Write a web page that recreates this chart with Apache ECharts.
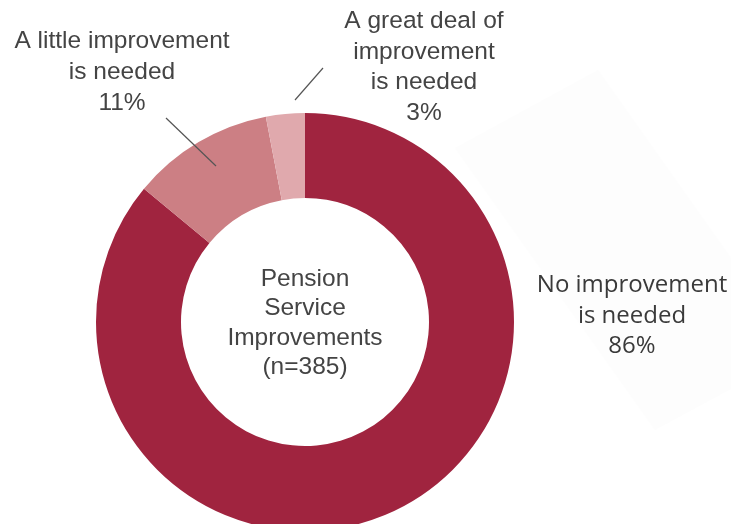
<!DOCTYPE html>
<html>
<head>
<meta charset="utf-8">
<script src="https://cdn.jsdelivr.net/npm/echarts@6/dist/echarts.min.js"></script>
<style>
  html, body { margin: 0; padding: 0; background: #ffffff; }
  #chart { width: 731px; height: 524px; }
</style>
</head>
<body>
<div id="chart"></div>
<script>
// Survey responses: how much improvement the pension service needs
const categories = [
  'No improvement\nis needed',
  'A little improvement\nis needed',
  'A great deal of\nimprovement\nis needed'
];
const shares = [86, 11, 3];
const sliceColors = ['#A0243F', '#CC7F84', '#E0A9AD'];
const centerLines = ['Pension', 'Service', 'Improvements', '(n=385)'];

const chart = echarts.init(document.getElementById('chart'), null, { renderer: 'canvas' });

const helv = 'Liberation Sans, Arial, Helvetica, sans-serif';

// Label anchors for each slice
const labelPlacement = [
  { x: 632, y: 316, align: 'center', verticalAlign: 'middle' },
  { x: 122, y: 72, align: 'center', verticalAlign: 'middle' },
  { x: 424, y: 67, align: 'center', verticalAlign: 'middle' }
];

// Leader lines, drawn above the ring
const leaderLines = [
  [[166, 118], [216, 166]],
  [[323, 68], [295, 100]]
];

const labelFonts = [
  { fontFamily: 'Open Sans', fontSize: 24, lineHeight: 30.5, color: '#3a3a3a' },
  { fontFamily: helv, fontSize: 24.5, lineHeight: 31, color: '#444444' },
  { fontFamily: helv, fontSize: 24.5, lineHeight: 30.5, color: '#444444' }
];

const pieData = categories.map((name, i) => ({
  name: name,
  value: shares[i],
  itemStyle: { color: sliceColors[i] },
  label: Object.assign({ show: true, align: 'center' }, labelFonts[i]),
  labelLine: { show: false }
}));

const graphics = [
  {
    type: 'polygon',
    z: -10,
    silent: true,
    shape: { points: [[455, 148], [598, 70], [731, 258], [731, 389], [655, 430]] },
    style: { fill: '#fdfdfd' }
  },
  {
    type: 'text',
    x: 305,
    y: 323,
    z: 10,
    silent: true,
    style: {
      text: centerLines.join('\n'),
      align: 'center',
      verticalAlign: 'middle',
      fontFamily: helv,
      fontSize: 24.5,
      lineHeight: 29.5,
      fill: '#444444'
    }
  }
];
leaderLines.forEach(pts => {
  graphics.push({
    type: 'line',
    z: 20,
    silent: true,
    shape: { x1: pts[0][0], y1: pts[0][1], x2: pts[1][0], y2: pts[1][1] },
    style: { stroke: '#555555', lineWidth: 1.2 }
  });
});

chart.setOption({
  animation: false,
  backgroundColor: '#ffffff',
  graphic: graphics,
  series: [
    {
      type: 'pie',
      center: [305, 322],
      radius: [124, 209],
      startAngle: 90,
      clockwise: true,
      avoidLabelOverlap: false,
      emphasis: { disabled: true },
      label: {
        show: true,
        position: 'outside',
        formatter: '{b}\n{c}%'
      },
      labelLayout: function (params) {
        return labelPlacement[params.dataIndex];
      },
      data: pieData
    }
  ]
});
</script>
</body>
</html>
